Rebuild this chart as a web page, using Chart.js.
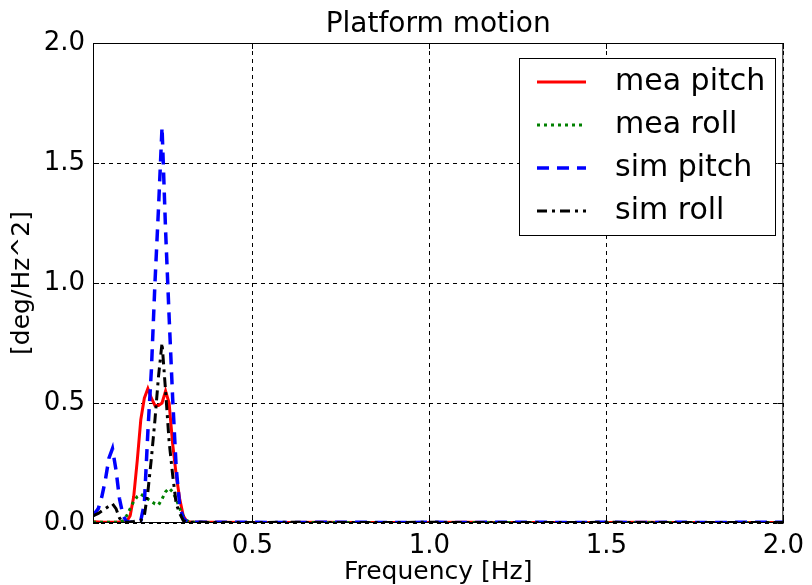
<!DOCTYPE html>
<html>
<head>
<meta charset="utf-8">
<script src="https://cdn.jsdelivr.net/npm/chart.js@4/dist/chart.umd.min.js"></script>
<style>
  html, body { margin: 0; padding: 0; background: #fff; }
  #wrap { width: 812px; height: 585px; }
</style>
</head>
<body>
<div id="wrap"><canvas id="psd"></canvas></div>
<script>
// frequency bins [Hz]
var freq = [0.05, 0.065, 0.075, 0.085, 0.095, 0.105, 0.115, 0.125, 0.135, 0.145,
            0.155, 0.165, 0.175, 0.185, 0.195, 0.205, 0.215, 0.225, 0.235, 0.245,
            0.255, 0.265, 0.275, 0.285, 0.295, 0.305, 0.315, 0.325, 0.335,
            0.4, 0.5, 0.6, 0.7, 0.8, 0.9, 1.0, 1.1, 1.2, 1.3, 1.4, 1.5, 1.6, 1.7, 1.8, 1.9, 2.0];

var meaPitch = [0.005, 0.004, 0.003, 0.003, 0.003, 0.003, 0.003, 0.004, 0.005, 0.006,
                0.03, 0.11, 0.26, 0.43, 0.52, 0.56, 0.52, 0.49, 0.49, 0.50,
                0.55, 0.50, 0.33, 0.20, 0.10, 0.03, 0.006, 0.004, 0.003,
                0.003, 0.002, 0.002, 0.003, 0.002, 0.002, 0.002, 0.003, 0.002, 0.002, 0.002, 0.002, 0.003, 0.002, 0.002, 0.002, 0.002];

var meaRoll = [0.003, 0.003, 0.003, 0.003, 0.003, 0.003, 0.003, 0.003, 0.01, 0.03,
               0.06, 0.09, 0.11, 0.12, 0.11, 0.10, 0.09, 0.08, 0.075, 0.10,
               0.13, 0.145, 0.13, 0.10, 0.06, 0.03, 0.01, 0.004, 0.003,
               0.002, 0.002, 0.002, 0.002, 0.002, 0.002, 0.002, 0.002, 0.002, 0.002, 0.002, 0.002, 0.002, 0.002, 0.002, 0.002, 0.002];

var simPitch = [0.03, 0.06, 0.11, 0.18, 0.27, 0.31, 0.22, 0.10, 0.03, 0.006,
                0.003, 0.003, 0.004, 0.01, 0.08, 0.38, 0.64, 1.00, 1.31, 1.65,
                1.22, 0.86, 0.52, 0.23, 0.07, 0.02, 0.005, 0.003, 0.003,
                0.003, 0.003, 0.002, 0.003, 0.003, 0.002, 0.003, 0.002, 0.003, 0.003, 0.002, 0.003, 0.002, 0.003, 0.002, 0.003, 0.003];

var simRoll = [0.03, 0.04, 0.05, 0.06, 0.07, 0.08, 0.06, 0.02, 0.006, 0.003,
               0.004, 0.006, 0.01, 0.01, 0.03, 0.13, 0.27, 0.43, 0.61, 0.75,
               0.55, 0.34, 0.20, 0.08, 0.04, 0.01, 0.005, 0.003, 0.003,
               0.002, 0.002, 0.003, 0.002, 0.002, 0.002, 0.003, 0.002, 0.002, 0.002, 0.002, 0.003, 0.002, 0.002, 0.002, 0.002, 0.002];

var seriesNames = ["mea pitch", "mea roll", "sim pitch", "sim roll"];
var xTicks = [0.5, 1.0, 1.5, 2.0];
var yTicks = [0.0, 0.5, 1.0, 1.5, 2.0];

var FONT = "'DejaVu Sans', sans-serif";

function pts(ys) {
	return freq.map(function(f, i) { return {x: f, y: ys[i]}; });
}

// frame, inward ticks, title, axis labels and legend box
var decor = {
	id: 'decor',
	afterDraw: function(chart) {
		var ctx = chart.ctx;
		var a = chart.chartArea;
		var xs = chart.scales.x, ys = chart.scales.y;
		ctx.save();
		ctx.strokeStyle = '#000';
		ctx.lineWidth = 1;
		ctx.setLineDash([]);
		ctx.strokeRect(a.left + 0.5, a.top + 0.5, a.right - a.left - 1, a.bottom - a.top - 1);

		ctx.beginPath();
		xTicks.forEach(function(v) {
			var px = Math.round(xs.getPixelForValue(v)) + 0.5;
			ctx.moveTo(px, a.bottom); ctx.lineTo(px, a.bottom - 6);
			ctx.moveTo(px, a.top); ctx.lineTo(px, a.top + 6);
		});
		yTicks.forEach(function(v) {
			var py = Math.round(ys.getPixelForValue(v)) + 0.5;
			ctx.moveTo(a.left, py); ctx.lineTo(a.left + 6, py);
			ctx.moveTo(a.right, py); ctx.lineTo(a.right - 6, py);
		});
		ctx.stroke();

		ctx.fillStyle = '#000';
		ctx.textAlign = 'center';
		ctx.textBaseline = 'alphabetic';
		ctx.font = '28px ' + FONT;
		ctx.fillText('Platform motion', (a.left + a.right) / 2, 32);

		ctx.font = '25px ' + FONT;
		ctx.textBaseline = 'middle';
		ctx.fillText('Frequency [Hz]', (a.left + a.right) / 2, 572);

		ctx.save();
		ctx.translate(22, (a.top + a.bottom) / 2);
		ctx.rotate(-Math.PI / 2);
		ctx.fillText('[deg/Hz^2]', 0, 0);
		ctx.restore();

		// legend
		var bx = 519, by = 58, bw = 256, bh = 177;
		ctx.fillStyle = '#fff';
		ctx.fillRect(bx, by, bw, bh);
		ctx.strokeStyle = '#000';
		ctx.lineWidth = 1;
		ctx.strokeRect(bx + 0.5, by + 0.5, bw, bh);
		ctx.font = '30px ' + FONT;
		ctx.textAlign = 'left';
		ctx.textBaseline = 'middle';
		chart.data.datasets.forEach(function(ds, i) {
			var yy = 82 + i * 43;
			ctx.strokeStyle = ds.borderColor;
			ctx.lineWidth = ds.borderWidth;
			ctx.setLineDash(ds.borderDash || []);
			ctx.beginPath();
			ctx.moveTo(537, yy);
			ctx.lineTo(586, yy);
			ctx.stroke();
			ctx.setLineDash([]);
			ctx.fillStyle = '#000';
			ctx.fillText(ds.label, 615, yy);
		});
		ctx.restore();
	}
};

var chartdata = {
	datasets: [
		{
			label: seriesNames[0],
			data: pts(meaPitch),
			borderColor: "rgb(255, 0, 0)",
			borderWidth: 3,
			order: 4
		},
		{
			label: seriesNames[1],
			data: pts(meaRoll),
			borderColor: "rgb(0, 128, 0)",
			borderWidth: 3,
			borderDash: [3, 4],
			order: 3
		},
		{
			label: seriesNames[2],
			data: pts(simPitch),
			borderColor: "rgb(0, 0, 255)",
			borderWidth: 3.5,
			borderDash: [12, 8],
			order: 2
		},
		{
			label: seriesNames[3],
			data: pts(simRoll),
			borderColor: "rgb(0, 0, 0)",
			borderWidth: 3,
			borderDash: [10, 5, 3, 5],
			order: 1
		}
	]
};

var ctx = document.getElementById("psd");

var LineGraph = new Chart(ctx, {
	type: 'line',
	data: chartdata,
	plugins: [decor],
	options: {
		responsive: true,
		maintainAspectRatio: false,
		animation: false,
		layout: { padding: { top: 43, right: 22, left: 0, bottom: 0 } },
		elements: {
			point: { radius: 0 },
			line: { tension: 0, fill: false }
		},
		plugins: {
			legend: { display: false },
			title: { display: false },
			tooltip: { enabled: false }
		},
		scales: {
			x: {
				type: 'linear',
				min: 0.05,
				max: 2.0,
				afterBuildTicks: function(scale) {
					scale.ticks = xTicks.map(function(v) { return {value: v}; });
				},
				afterFit: function(scale) { scale.height = 62; },
				grid: {
					color: '#000',
					lineWidth: 1,
					drawTicks: false
				},
				border: { display: false, dash: [4, 4] },
				ticks: {
					color: '#000',
					padding: 8,
					font: { family: FONT, size: 26 },
					callback: function(v) { return Number(v).toFixed(1); }
				}
			},
			y: {
				min: 0,
				max: 2.0,
				afterBuildTicks: function(scale) {
					scale.ticks = yTicks.map(function(v) { return {value: v}; });
				},
				afterFit: function(scale) { scale.width = 93; },
				grid: {
					color: '#000',
					lineWidth: 1,
					drawTicks: false
				},
				border: { display: false, dash: [4, 4] },
				ticks: {
					color: '#000',
					padding: 8,
					font: { family: FONT, size: 26 },
					callback: function(v) { return Number(v).toFixed(1); }
				}
			}
		}
	}
});
</script>
</body>
</html>
